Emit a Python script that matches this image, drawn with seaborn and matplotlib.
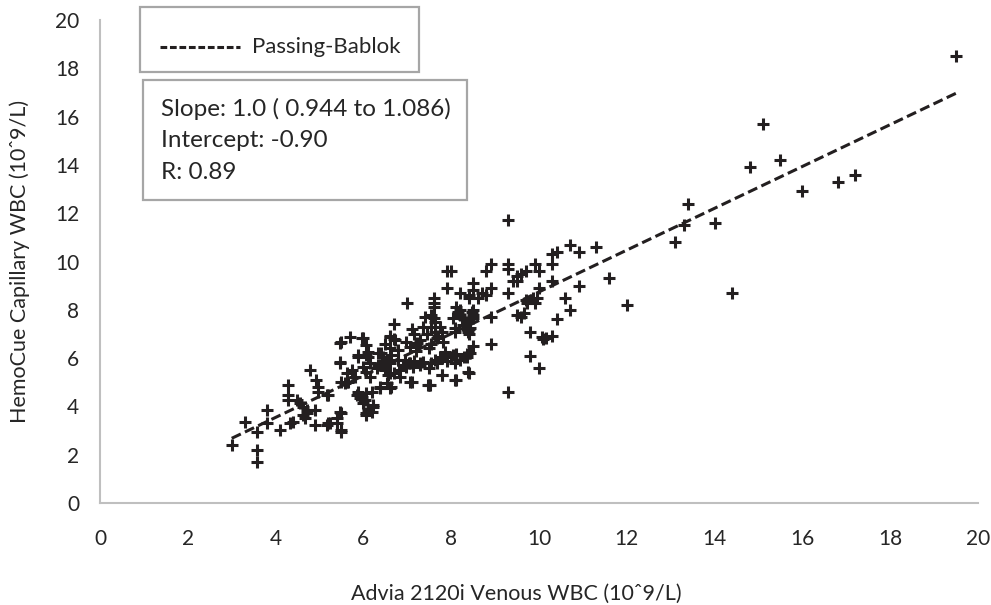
import numpy as np
import matplotlib
matplotlib.use("Agg")
import matplotlib.pyplot as plt
from matplotlib.patches import Rectangle
from matplotlib.lines import Line2D
import seaborn as sns
import pandas as pd

# Advia venous WBC (x) vs HemoCue capillary WBC (y), 10^9/L
venous_wbc = [
    19.5, 15.1, 14.8, 15.5, 16.0, 16.8, 17.2, 13.4, 13.3, 13.1, 14.0, 14.4, 11.6, 12.0, 11.3,
    9.3, 10.7, 10.9, 10.3, 10.4, 10.3, 9.9, 10.0, 9.7, 9.6, 9.5, 9.5, 9.4, 9.3, 9.3,
    8.9, 8.8, 7.9, 8.0, 8.5, 7.9, 8.2, 8.4, 8.6, 8.8, 8.9, 9.3, 10.0, 10.3, 10.9,
    10.6, 10.7, 10.4, 9.7, 9.9, 9.95, 9.5, 9.6, 9.65, 8.9, 9.8, 10.1, 10.3, 9.8, 10.0,
    9.3, 8.9, 10.06, 10.17, 9.72, 9.87,
    7.0, 7.6, 7.6, 7.6, 7.55, 7.6, 8.1, 8.2, 8.2, 8.25, 8.3, 8.5, 8.5, 8.4, 7.4,
    7.35, 7.45, 6.7, 6.6, 6.7, 7.1, 7.15, 7.75, 7.8, 7.7, 8.4, 8.4, 8.5, 7.55, 7.5,
    7.2, 7.2, 6.5, 6.6, 7.85, 7.8, 7.9, 8.0, 8.1, 8.3, 8.35, 8.4, 7.55, 7.5, 7.05,
    7.15, 7.3, 7.8, 8.1, 8.4, 7.5, 7.1, 6.5, 6.6, 6.4, 6.45, 8.5, 8.4, 8.7, 7.63,
    7.55, 8.16, 8.05, 8.09, 8.28, 8.47, 8.5, 8.35, 8.43, 7.82, 7.67, 7.63, 8.09, 8.39,
    7.86, 7.74, 7.9, 8.05, 8.09, 8.2, 8.35, 8.43, 7.78, 8.09, 8.39, 7.52,
    5.47, 5.69, 5.96, 6.07, 6.11, 5.88, 6.07, 6.34, 6.61, 6.72, 6.79, 6.64, 6.57, 6.79, 6.98,
    7.06, 7.21, 7.29, 6.95, 6.98, 7.06, 7.14, 7.29, 7.36, 7.63, 7.67, 5.47, 5.73, 5.62, 5.81,
    5.5, 5.62, 6.0, 6.07, 6.15, 6.15, 6.3, 6.4, 6.5, 6.6, 6.55, 6.7, 6.8, 6.9, 6.83,
    7.06, 6.38, 6.61, 5.88, 5.96, 6.04, 6.07, 6.19, 6.23, 6.11, 6.07, 7.48, 5.16, 5.47, 5.39,
    5.24, 5.16, 5.5,
    3.0, 3.58, 3.58, 3.3, 3.58, 3.8, 3.8, 4.1, 4.29, 4.29, 4.29, 4.33, 4.4, 4.48, 4.56,
    4.63, 4.71, 4.63, 4.67, 4.71, 4.78, 4.93, 4.97, 4.97, 4.9, 4.9, 5.2, 5.2, 5.39, 5.5,
    5.5, 5.47, 5.5, 5.58, 5.66, 6.0, 5.88, 6.11, 5.85, 5.92, 6.0, 6.07, 6.23, 6.19, 6.34,
    6.42, 6.53, 6.38, 6.53, 6.64,
]
capillary_wbc = [
    18.5, 15.7, 13.9, 14.2, 12.9, 13.3, 13.6, 12.4, 11.5, 10.8, 11.6, 8.7, 9.3, 8.2, 10.6,
    11.7, 10.7, 10.4, 10.3, 10.4, 9.9, 9.9, 9.6, 9.6, 9.5, 9.4, 9.2, 9.2, 9.9, 9.7,
    9.9, 9.6, 9.6, 9.6, 9.1, 8.9, 8.7, 8.6, 8.5, 8.6, 8.9, 8.7, 8.9, 9.2, 9.0,
    8.5, 8.0, 7.6, 8.4, 8.3, 8.5, 7.8, 7.7, 7.85, 7.7, 7.1, 6.8, 6.9, 6.1, 5.6,
    4.6, 6.6, 6.89, 6.82, 8.27, 8.48,
    8.3, 8.5, 8.3, 8.1, 7.8, 7.65, 8.1, 8.0, 7.8, 7.65, 7.6, 8.0, 7.8, 7.6, 7.7,
    7.3, 7.0, 7.4, 6.9, 6.8, 7.2, 7.0, 7.3, 7.1, 6.9, 7.2, 7.0, 6.5, 6.6, 6.4,
    6.5, 6.3, 6.6, 6.4, 6.1, 6.0, 5.9, 6.05, 6.15, 6.05, 6.15, 6.2, 5.8, 5.6, 5.8,
    5.9, 5.7, 5.3, 5.1, 5.4, 4.9, 5.0, 5.6, 5.4, 6.2, 6.05, 8.8, 8.5, 8.7, 7.51,
    7.3, 7.92, 7.65, 7.23, 7.37, 7.92, 7.65, 7.51, 7.23, 6.68, 6.82, 7.09, 7.09, 7.09,
    6.27, 6.06, 6.06, 6.13, 5.78, 5.92, 6.06, 6.2, 5.3, 5.09, 5.44, 4.89,
    6.61, 6.89, 6.82, 6.54, 6.27, 6.13, 6.13, 6.2, 6.89, 6.75, 6.34, 6.13, 5.85, 5.92, 6.68,
    6.47, 6.61, 6.75, 5.92, 5.64, 5.78, 5.64, 5.78, 5.85, 5.92, 5.78, 5.85, 5.51, 5.37, 5.23,
    5.02, 5.02, 5.64, 5.44, 5.78, 5.23, 5.6, 5.7, 5.5, 5.8, 5.3, 5.4, 5.5, 5.7, 5.23,
    5.02, 4.75, 4.75, 4.61, 4.4, 4.26, 4.54, 4.61, 4.06, 3.85, 3.64, 4.89, 4.47, 3.78, 3.51,
    3.3, 3.23, 3.02,
    2.4, 2.19, 1.71, 3.37, 2.95, 3.85, 3.3, 3.02, 4.89, 4.47, 4.26, 3.3, 3.37, 4.26, 4.13,
    3.99, 3.85, 3.64, 3.51, 3.71, 5.51, 5.09, 4.82, 4.61, 3.85, 3.23, 4.47, 3.3, 3.3, 3.71,
    2.95, 5.78, 6.68, 4.96, 5.02, 6.82, 6.06, 6.06, 4.47, 4.33, 4.13, 3.71, 3.99, 3.78, 5.71,
    5.78, 5.92, 4.82, 4.96, 4.82,
]

# trendline as drawn in the figure
fit_slope = 0.866
fit_intercept = 0.08

stats_lines = ["Slope: 1.0 ( 0.944 to 1.086)", "Intercept: -0.90", "R: 0.89"]
legend_label = "Passing-Bablok"
x_ticks = [0, 2, 4, 6, 8, 10, 12, 14, 16, 18, 20]
y_ticks = [0, 2, 4, 6, 8, 10, 12, 14, 16, 18, 20]

df = pd.DataFrame({"venous": venous_wbc, "capillary": capillary_wbc})

sns.set_style("white")
plt.rcParams["font.family"] = ["Lato", "DejaVu Sans"]

ink = "#231f20"
grey = "#bfbfbf"
txt_col = "#262626"

fig = plt.figure(figsize=(9.91, 6.05), dpi=100)
ax = fig.add_axes([100 / 991, 102 / 605, 878 / 991, 483 / 605])

sns.scatterplot(data=df, x="venous", y="capillary", marker="+", s=80,
                linewidth=2.2, color=ink, ax=ax, legend=False, zorder=3)

line_x = np.array([min(venous_wbc), max(venous_wbc)])
line_y = fit_intercept + fit_slope * line_x
ax.plot(line_x, line_y, color=ink, linewidth=2.2, linestyle=(0, (3.3, 1.5)), zorder=2)

ax.set_xlim(0, 20)
ax.set_ylim(0, 20)
ax.set_xticks(x_ticks)
ax.set_yticks(y_ticks)
ax.tick_params(length=0, labelsize=15, colors=txt_col)
ax.tick_params(axis="x", pad=19)
ax.tick_params(axis="y", pad=15)
for side in ["top", "right"]:
    ax.spines[side].set_visible(False)
for side in ["left", "bottom"]:
    ax.spines[side].set_color(grey)
    ax.spines[side].set_linewidth(1.5)

ax.set_xlabel("Advia 2120i Venous WBC (10ˆ9/L)", fontsize=15.5, color=txt_col)
ax.set_ylabel("HemoCue Capillary WBC (10ˆ9/L)", fontsize=15.5, color=txt_col, labelpad=18)
ax.xaxis.set_label_coords(0.474, -0.168)

# legend box
box_col = "#a6a6a6"
fig.patches.append(Rectangle((140 / 991, 1 - 72 / 605), 279 / 991, 65 / 605,
                             transform=fig.transFigure, fill=True, facecolor="white",
                             edgecolor=box_col, linewidth=1.6, zorder=5))
fig.lines.append(Line2D([160 / 991, 240 / 991], [1 - 47 / 605, 1 - 47 / 605],
                        transform=fig.transFigure, color=ink, linewidth=2.2,
                        linestyle=(0, (2.2, 0.9)), zorder=6))
fig.text(252 / 991, 1 - 47 / 605, legend_label, fontsize=16, color=txt_col,
         va="center", ha="left", zorder=6)

# stats box
fig.patches.append(Rectangle((143 / 991, 1 - 200 / 605), 324 / 991, 120 / 605,
                             transform=fig.transFigure, fill=True, facecolor="white",
                             edgecolor=box_col, linewidth=1.6, zorder=5))
for i, txt in enumerate(stats_lines):
    fig.text(161 / 991, 1 - (109 + 31.5 * i) / 605, txt, fontsize=17.5, color=txt_col,
             va="center", ha="left", zorder=6)

fig.savefig("out.png", dpi=100)
